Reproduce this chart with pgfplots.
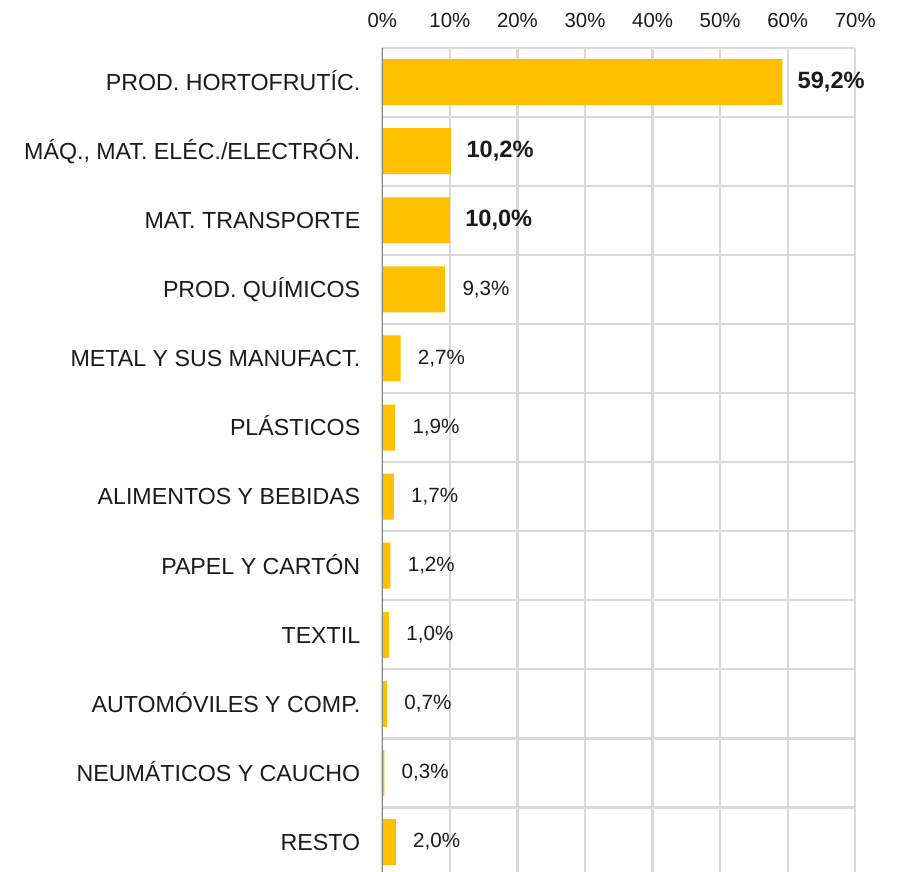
\documentclass[border=0pt]{standalone}
\usepackage{pgfplots}
\pgfplotsset{compat=1.18}
\usepackage{fontspec}
\setmainfont{Liberation Sans}
\definecolor{bargold}{HTML}{FFC000}
\definecolor{gridgray}{HTML}{D9D9D9}
\definecolor{axgray}{HTML}{868686}
\definecolor{txt}{HTML}{1A1A1A}
\begin{document}
\begin{tikzpicture}[x=1pt,y=1pt]
\useasboundingbox (0,0) rectangle (449.5,-436);
\begin{axis}[
  at={(191.15pt,-23.8pt)}, anchor=north west,
  scale only axis, width=236.5pt, height=414.5pt,
  xmin=0, xmax=70, ymin=-0.5, ymax=11.5, y dir=reverse,
  xtick={0,10,...,70},
  xticklabels={0\%,10\%,20\%,30\%,40\%,50\%,60\%,70\%},
  xticklabel pos=upper,
  xticklabel style={font=\fontsize{10.2}{12}\selectfont, yshift=6.3pt, text=txt},
  ytick={0,...,11},
  yticklabels={PROD. HORTOFRUTÍC., {MÁQ., MAT. ELÉC./ELECTRÓN.}, MAT. TRANSPORTE, PROD. QUÍMICOS, METAL Y SUS MANUFACT., PLÁSTICOS, ALIMENTOS Y BEBIDAS, PAPEL Y CARTÓN, TEXTIL, AUTOMÓVILES Y COMP., NEUMÁTICOS Y CAUCHO, RESTO},
  yticklabel style={font=\fontsize{11.6}{13}\selectfont, xshift=-7.5pt, text=txt, text height=8.3pt, text depth=0pt, anchor=east},
  minor ytick={-0.5,0.5,...,11.5},
  major tick length=0pt, minor tick length=0pt,
  xmajorgrids, yminorgrids,
  grid style={draw=gridgray, line width=1.1pt},
  minor grid style={draw=gridgray, line width=1.1pt},
  axis line style={draw=none},
  xbar, bar width=23pt, bar shift=0pt,
  nodes near coords,
  point meta=explicit symbolic,
  every node near coord/.append style={anchor=west, inner sep=0pt, xshift=7.5pt, text=txt},
  clip=false,
]
\addplot[fill=bargold, draw=none,
  every node near coord/.append style={font=\fontsize{11.8}{13}\selectfont\bfseries}]
  coordinates {(59.2,0) [59,2\%] (10.2,1) [10,2\%] (10.0,2) [10,0\%]};
\addplot[fill=bargold, draw=none,
  every node near coord/.append style={font=\fontsize{10.3}{12}\selectfont, xshift=1pt}]
  coordinates {(9.3,3) [9,3\%] (2.7,4) [2,7\%] (1.9,5) [1,9\%] (1.7,6) [1,7\%] (1.2,7) [1,2\%] (1.0,8) [1,0\%] (0.7,9) [0,7\%] (0.3,10) [0,3\%] (2.0,11) [2,0\%]};
\draw[axgray, line width=0.7pt] (axis cs:0,-0.5) -- (axis cs:0,11.5);
\end{axis}
\end{tikzpicture}
\end{document}
